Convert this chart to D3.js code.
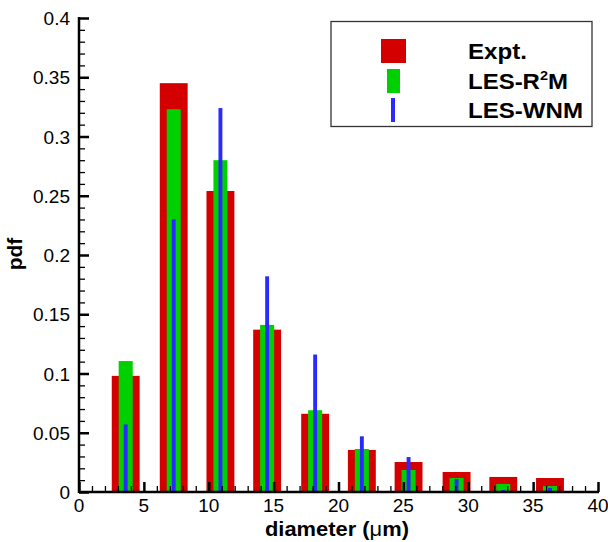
<!DOCTYPE html>
<html><head><meta charset="utf-8">
<script src="https://cdn.jsdelivr.net/npm/d3@7"></script>
<style>body{margin:0;background:#fff}svg{display:block}</style>
</head><body>
<svg id="c" width="608" height="542"></svg>
<script>
const diameters = [3.6, 7.3, 10.9, 14.5, 18.2, 21.8, 25.4, 29.1, 32.7, 36.3];
const expt = [0.098, 0.345, 0.254, 0.137, 0.066, 0.0355, 0.0253, 0.0169, 0.0127, 0.0118];
const lesR2M = [0.1105, 0.323, 0.280, 0.141, 0.069, 0.0363, 0.0186, 0.0118, 0.0068, 0.005];
const lesWNM = [0.057, 0.230, 0.324, 0.182, 0.116, 0.047, 0.0295, 0.011, 0.0017, 0.0034];
const xTicks = [0, 5, 10, 15, 20, 25, 30, 35, 40];
const yTicks = [0, 0.05, 0.1, 0.15, 0.2, 0.25, 0.3, 0.35, 0.4];
const seriesNames = ["Expt.", "LES-R\u00B2M", "LES-WNM"];

const svg = d3.select("#c");
const x = d3.scaleLinear().domain([0, 40]).range([79, 598]);
const y = d3.scaleLinear().domain([0, 0.4]).range([492, 18]);
const font = "'Liberation Sans', Arial, Helvetica, sans-serif";

const series = [
  {vals: expt, w: 2.15, color: "#d40000"},
  {vals: lesR2M, w: 1.08, color: "#00d000"},
  {vals: lesWNM, w: 0.3, color: "#2a2aff"}
];
series.forEach(s => {
  svg.append("g").selectAll("rect").data(diameters).join("rect")
    .attr("x", (d) => x(d - s.w / 2))
    .attr("width", x(s.w) - x(0))
    .attr("y", (d, i) => y(s.vals[i]))
    .attr("height", (d, i) => y(0) - y(s.vals[i]))
    .attr("fill", s.color);
});

// x axis
const xa = svg.append("g").attr("transform", `translate(0,${y(0)})`)
  .call(d3.axisBottom(x).tickValues(d3.range(0, 41, 1)).tickSize(-6).tickFormat(""));
xa.selectAll(".tick line").attr("stroke", "#000")
  .attr("y2", d => d % 5 === 0 ? -10 : -6)
  .attr("stroke-width", d => d % 5 === 0 ? 2.5 : 1.3);
xa.select(".domain").remove();
xa.append("line").attr("x1", x(0)).attr("x2", x(40) + 1).attr("stroke", "#000").attr("stroke-width", 2.5);
svg.append("g").selectAll("text").data(xTicks).join("text")
  .attr("x", d => x(d)).attr("y", 512).attr("text-anchor", "middle")
  .attr("font-family", font).attr("font-size", 19).text(d => d);

// y axis
const ya = svg.append("g").attr("transform", `translate(${x(0)},0)`)
  .call(d3.axisLeft(y).tickValues(d3.range(0, 0.4001, 0.01)).tickSize(-6).tickFormat(""));
ya.selectAll(".tick line").attr("stroke", "#000")
  .attr("x2", (d, i) => i % 5 === 0 ? 10 : 6)
  .attr("stroke-width", (d, i) => i % 5 === 0 ? 2.5 : 1.3);
ya.select(".domain").remove();
ya.append("line").attr("y1", y(0.4) - 1).attr("y2", y(0) + 1).attr("stroke", "#000").attr("stroke-width", 2.5);
svg.append("g").selectAll("text").data(yTicks).join("text")
  .attr("x", 70).attr("y", d => y(d) + 7).attr("text-anchor", "end")
  .attr("font-family", font).attr("font-size", 19).text(d => d === 0 ? "0" : d3.format("~g")(d));

// axis titles
const xt = svg.append("text").attr("x", 265).attr("y", 536)
  .attr("font-family", font).attr("font-size", 21).attr("font-weight", "bold")
  .attr("textLength", 144).attr("lengthAdjust", "spacingAndGlyphs");
xt.append("tspan").text("diameter (");
xt.append("tspan").attr("font-weight", "normal").text("\u03BC");
xt.append("tspan").text("m)");
svg.append("text").attr("transform", "translate(22,254) rotate(-90)").attr("text-anchor", "middle")
  .attr("font-family", font).attr("font-size", 21).attr("font-weight", "bold").text("pdf");

// legend
const lg = svg.append("g");
lg.append("rect").attr("x", 331).attr("y", 21.5).attr("width", 261).attr("height", 105)
  .attr("fill", "#fff").attr("stroke", "#333").attr("stroke-width", 1.3);
const sw = [
  {x: 381, y: 39, w: 25, h: 24},
  {x: 387, y: 69, w: 13, h: 24},
  {x: 391, y: 98, w: 4, h: 24}
];
const baselines = [59, 89, 118];
const lens = [59, 100, 115];
seriesNames.forEach((n, i) => {
  lg.append("rect").attr("x", sw[i].x).attr("y", sw[i].y).attr("width", sw[i].w).attr("height", sw[i].h)
    .attr("fill", series[i].color);
  const t = lg.append("text").attr("x", 468).attr("y", baselines[i])
    .attr("font-family", font).attr("font-size", 21.5).attr("font-weight", "bold")
    .attr("textLength", lens[i]).attr("lengthAdjust", "spacingAndGlyphs");
  if (i === 1) {
    t.append("tspan").text("LES-R");
    t.append("tspan").attr("font-size", 13).attr("dy", -9).text("2");
    t.append("tspan").attr("dy", 9).text("M");
  } else t.text(n);
});
</script>
</body></html>
